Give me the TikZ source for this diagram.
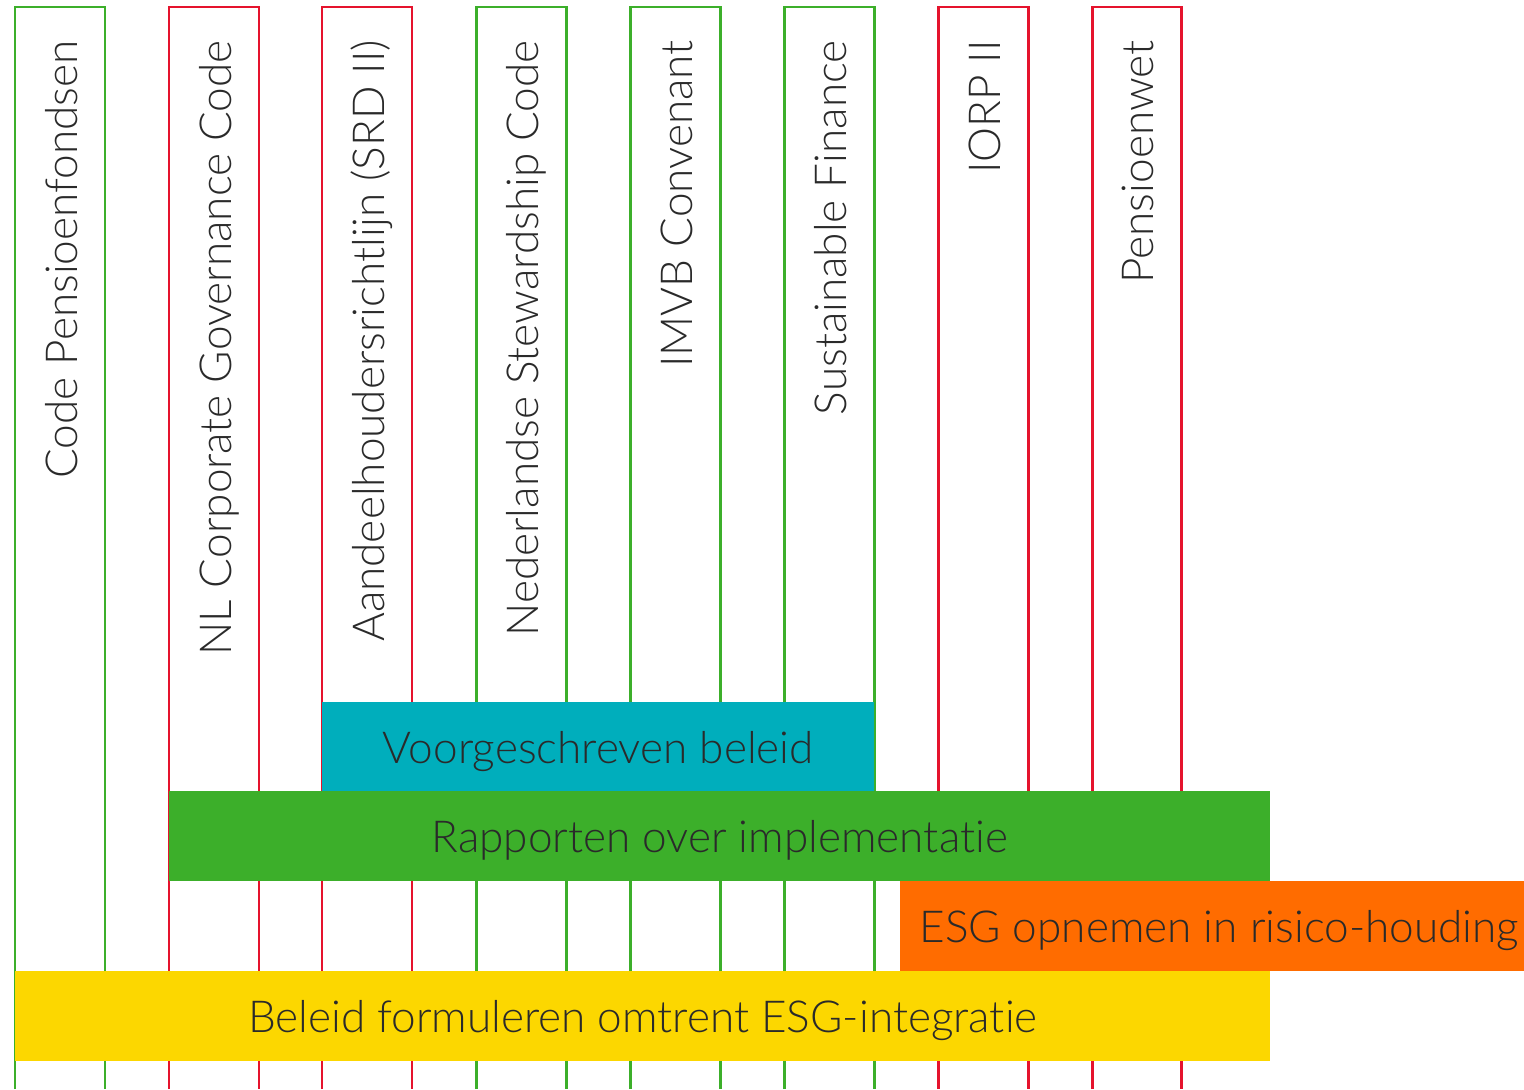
\documentclass[tikz,border=0pt]{standalone}
\usepackage{fontspec}
\setmainfont{Lato Light}[Ligatures=NoCommon]
\usepackage{tikz}

\definecolor{groen}{HTML}{3CAF2A}
\definecolor{rood}{HTML}{E5132D}
\definecolor{blauw}{HTML}{00AEBC}
\definecolor{oranje}{HTML}{FF6C00}
\definecolor{geel}{HTML}{FCD700}
\definecolor{inkt}{HTML}{2A2A2A}

\begin{document}
\begin{tikzpicture}[x=0.02cm, y=-0.02cm, kolom/.style={line width=1.7pt}, codetekst/.style={rotate=90, anchor=base east, inner sep=0pt, text=inkt, font=\fontsize{25.1}{25}\selectfont}, balk/.style={anchor=north west, inner sep=0pt, minimum height=1.8cm, text height=0.65cm, text depth=0pt, text=inkt, font=\fontsize{25.1}{25}\selectfont}]
  \useasboundingbox (0,0) rectangle (1524,1089);

  \draw[kolom, groen] (15,1089)   |- (105,7)  -- (105,1089);
  \draw[kolom, rood]  (169,1089)  |- (259,7)  -- (259,1089);
  \draw[kolom, rood]  (322,1089)  |- (412,7)  -- (412,1089);
  \draw[kolom, groen] (476,1089)  |- (566,7)  -- (566,1089);
  \draw[kolom, groen] (630,1089)  |- (720,7)  -- (720,1089);
  \draw[kolom, groen] (784,1089)  |- (874,7)  -- (874,1089);
  \draw[kolom, rood]  (938,1089)  |- (1028,7) -- (1028,1089);
  \draw[kolom, rood]  (1092,1089) |- (1181,7) -- (1181,1089);

  \node[codetekst] (pensioenfondsen) at (77,40)   {Code Pensioenfondsen};
  \node[codetekst] (governance)      at (231,40)  {NL Corporate Governance Code};
  \node[codetekst] (srd)             at (384,40)  {Aandeelhoudersrichtlijn (SRD II)};
  \node[codetekst] (stewardship)     at (538,40)  {Nederlandse Stewardship Code};
  \node[codetekst] (imvb)            at (692,40)  {IMVB Convenant};
  \node[codetekst] (finance)         at (846,40)  {Sustainable Finance};
  \node[codetekst] (iorp)            at (1000,40) {IORP II};
  \node[codetekst] (pensioenwet)     at (1153,40) {Pensioenwet};

  \node[balk, fill=blauw,  minimum width=11.04cm] (voorgeschreven) at (322,702) {Voorgeschreven beleid};
  \node[balk, fill=groen,  minimum width=22.02cm] (rapporten)      at (169,791) {Rapporten over implementatie};
  \node[balk, fill=oranje, minimum width=12.76cm] (risico)         at (900,881) {ESG opnemen in risico-houding};
  \node[balk, fill=geel,   minimum width=25.10cm] (integratie)     at (15,971)  {Beleid formuleren omtrent ESG-integratie};
\end{tikzpicture}
\end{document}
